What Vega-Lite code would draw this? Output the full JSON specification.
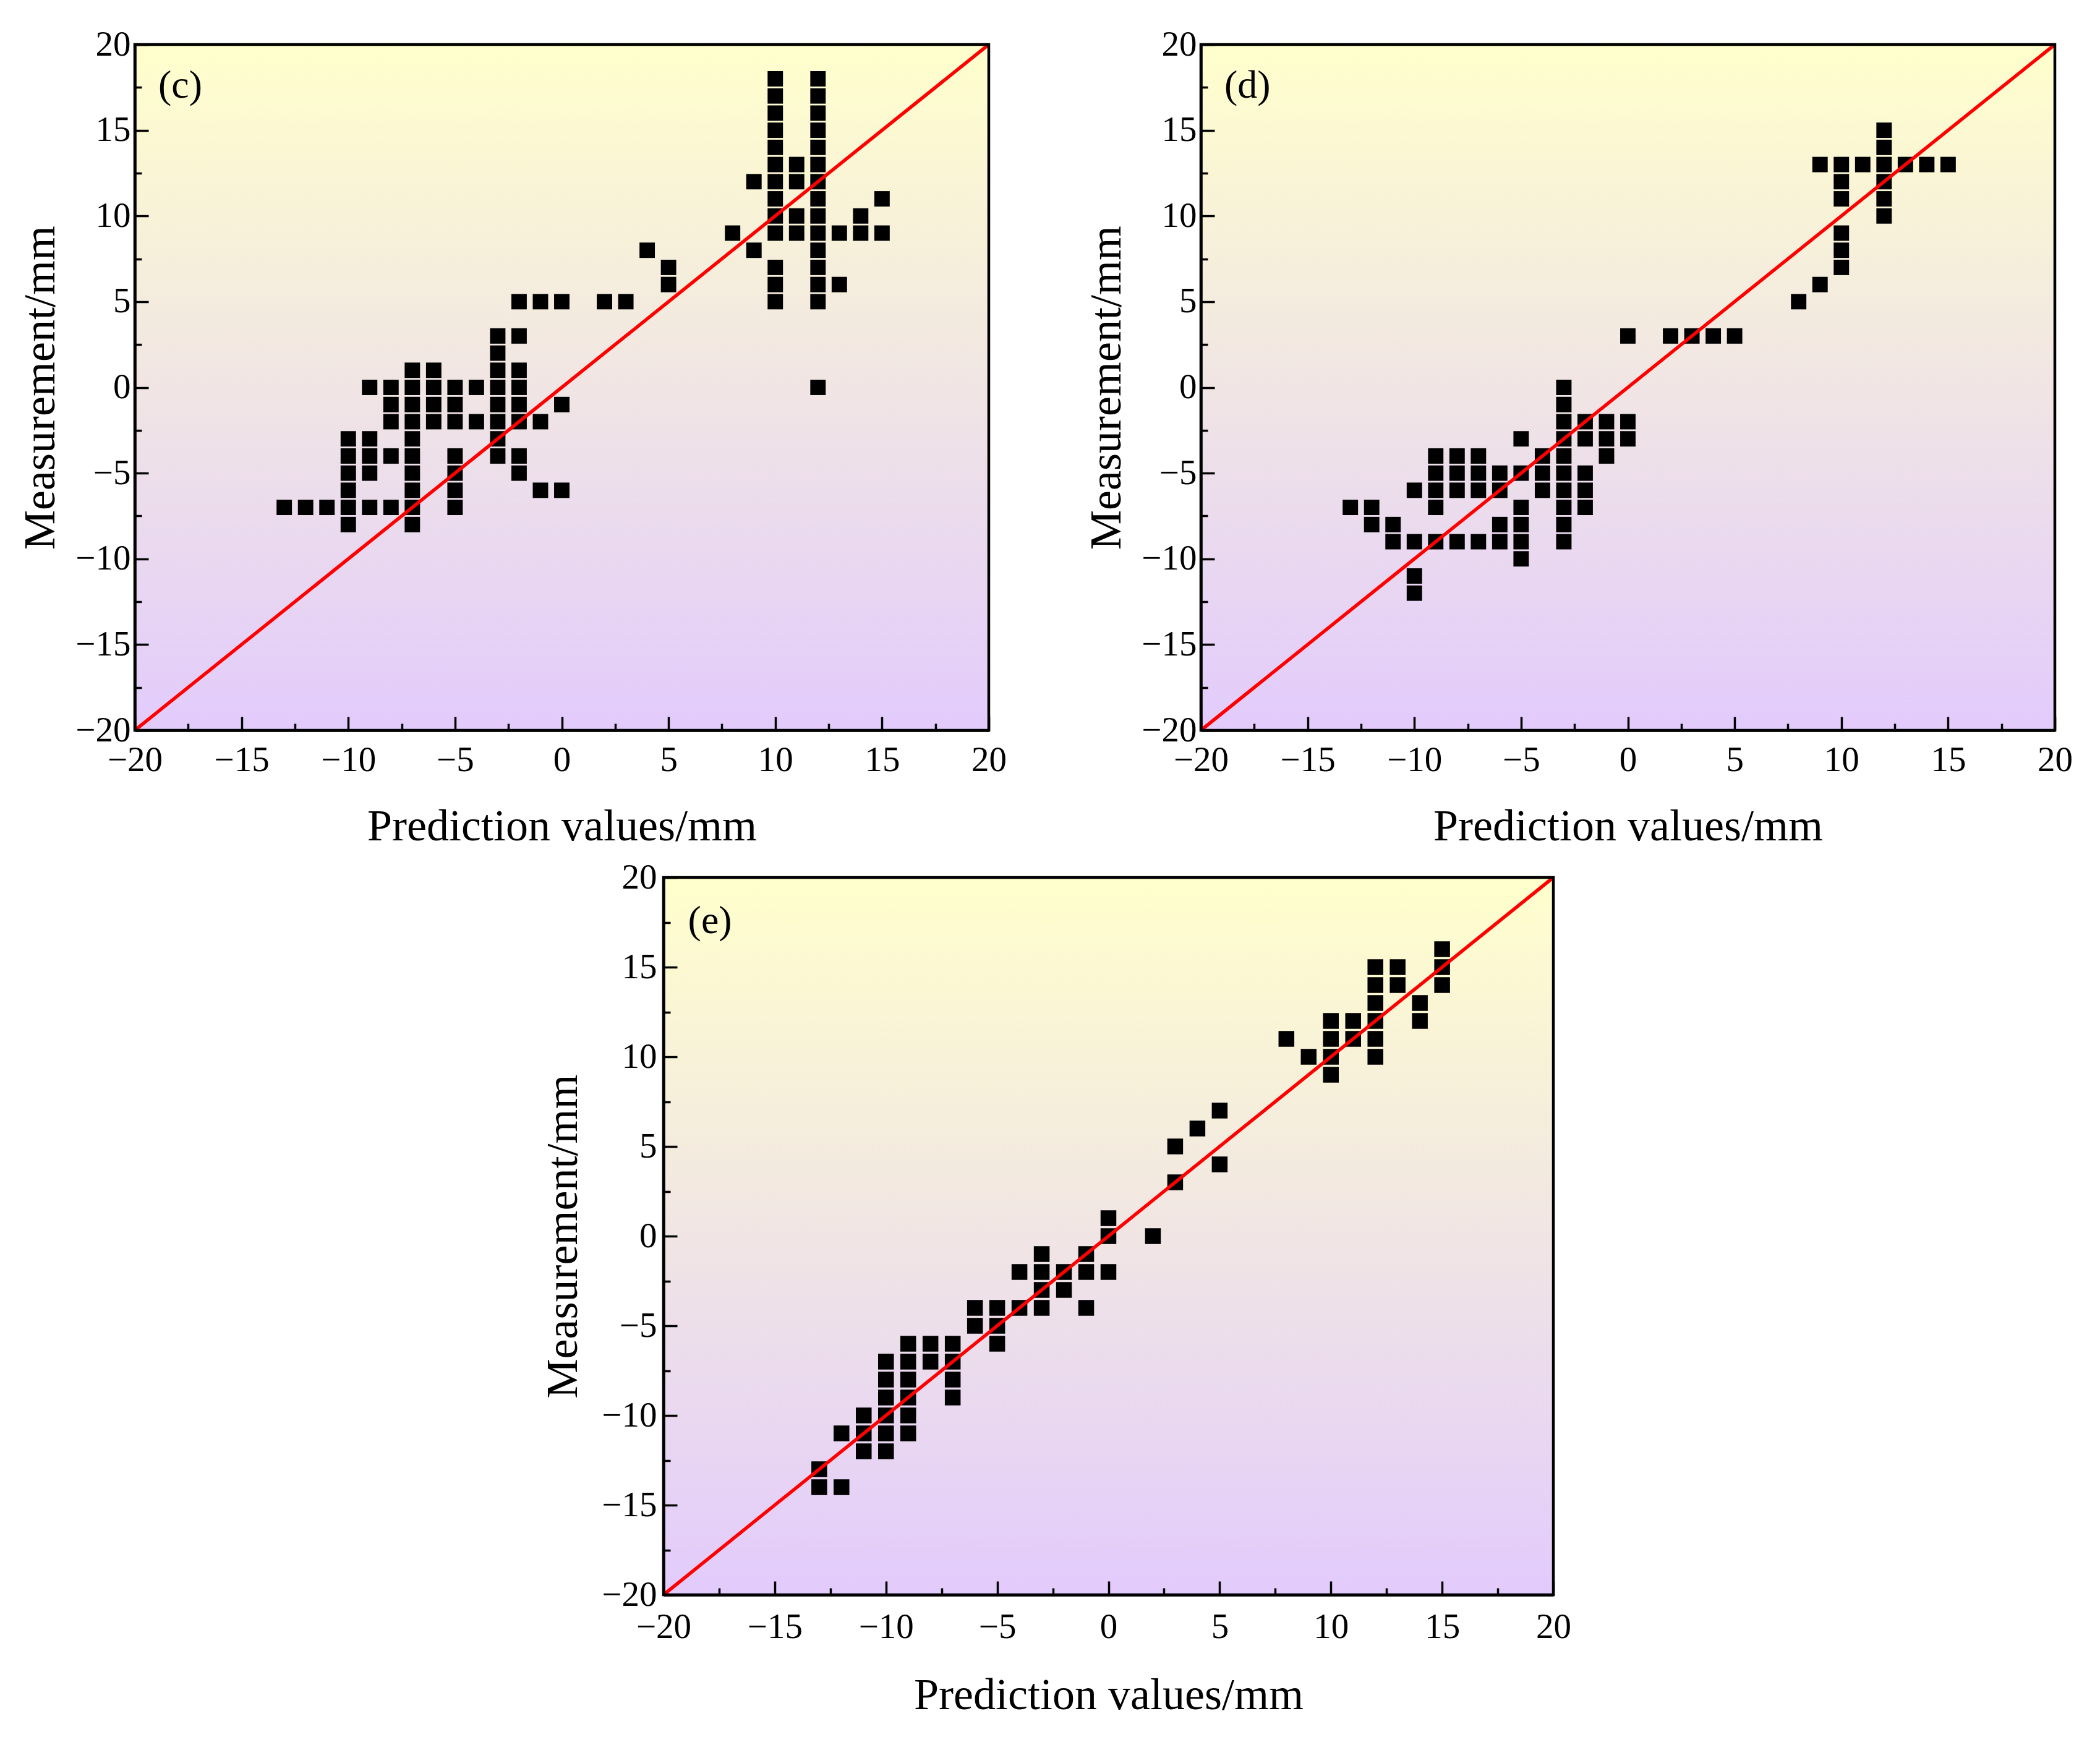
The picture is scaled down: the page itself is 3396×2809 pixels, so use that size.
{
  "$schema": "https://vega.github.io/schema/vega-lite/v6.json",
  "background": "white",
  "padding": {"left": 29, "top": 43, "right": 10, "bottom": 10},
  "config": {
    "font": "Liberation Serif",
    "view": {"stroke": null},
    "axis": {
      "zindex": 2,
      "domainColor": "black",
      "domainWidth": 4.5,
      "tickColor": "black",
      "tickWidth": 3.5,
      "labelFont": "Liberation Serif",
      "labelFontSize": 57,
      "labelColor": "black",
      "titleFont": "Liberation Serif",
      "titleFontSize": 72,
      "titleFontWeight": "normal",
      "titleColor": "black",
      "grid": false,
      "labelFlush": false,
      "labelOverlap": false
    }
  },
  "datasets": {
    "c": [
      {"pred": -2, "meas": 5}, {"pred": -1, "meas": 5}, {"pred": 0, "meas": 5}, {"pred": 2, "meas": 5}, {"pred": 3, "meas": 5},
      {"pred": -3, "meas": 3}, {"pred": -2, "meas": 3}, {"pred": -3, "meas": 2},
      {"pred": -7, "meas": 1}, {"pred": -6, "meas": 1}, {"pred": -3, "meas": 1}, {"pred": -2, "meas": 1},
      {"pred": -9, "meas": 0}, {"pred": -8, "meas": 0}, {"pred": -7, "meas": 0}, {"pred": -6, "meas": 0}, {"pred": -5, "meas": 0}, {"pred": -4, "meas": 0}, {"pred": -3, "meas": 0}, {"pred": -2, "meas": 0},
      {"pred": -8, "meas": -1}, {"pred": -7, "meas": -1}, {"pred": -6, "meas": -1}, {"pred": -5, "meas": -1}, {"pred": -3, "meas": -1}, {"pred": -2, "meas": -1}, {"pred": 0, "meas": -1},
      {"pred": -8, "meas": -2}, {"pred": -7, "meas": -2}, {"pred": -6, "meas": -2}, {"pred": -5, "meas": -2}, {"pred": -4, "meas": -2}, {"pred": -3, "meas": -2}, {"pred": -2, "meas": -2}, {"pred": -1, "meas": -2},
      {"pred": -10, "meas": -3}, {"pred": -9, "meas": -3}, {"pred": -7, "meas": -3}, {"pred": -3, "meas": -3},
      {"pred": -10, "meas": -4}, {"pred": -9, "meas": -4}, {"pred": -8, "meas": -4}, {"pred": -7, "meas": -4}, {"pred": -5, "meas": -4}, {"pred": -3, "meas": -4}, {"pred": -2, "meas": -4},
      {"pred": -10, "meas": -5}, {"pred": -9, "meas": -5}, {"pred": -7, "meas": -5}, {"pred": -5, "meas": -5}, {"pred": -2, "meas": -5},
      {"pred": -10, "meas": -6}, {"pred": -7, "meas": -6}, {"pred": -5, "meas": -6}, {"pred": -1, "meas": -6}, {"pred": 0, "meas": -6},
      {"pred": -13, "meas": -7}, {"pred": -12, "meas": -7}, {"pred": -11, "meas": -7}, {"pred": -10, "meas": -7}, {"pred": -9, "meas": -7}, {"pred": -8, "meas": -7}, {"pred": -7, "meas": -7}, {"pred": -5, "meas": -7},
      {"pred": -10, "meas": -8}, {"pred": -7, "meas": -8},
      {"pred": 4, "meas": 8}, {"pred": 5, "meas": 7}, {"pred": 5, "meas": 6}, {"pred": 8, "meas": 9}, {"pred": 9, "meas": 12}, {"pred": 9, "meas": 8},
      {"pred": 10, "meas": 18}, {"pred": 10, "meas": 17}, {"pred": 10, "meas": 16}, {"pred": 10, "meas": 15}, {"pred": 10, "meas": 14}, {"pred": 10, "meas": 13}, {"pred": 10, "meas": 12}, {"pred": 10, "meas": 11}, {"pred": 10, "meas": 10}, {"pred": 10, "meas": 9}, {"pred": 10, "meas": 7}, {"pred": 10, "meas": 6}, {"pred": 10, "meas": 5},
      {"pred": 11, "meas": 13}, {"pred": 11, "meas": 12}, {"pred": 11, "meas": 10}, {"pred": 11, "meas": 9},
      {"pred": 12, "meas": 18}, {"pred": 12, "meas": 17}, {"pred": 12, "meas": 16}, {"pred": 12, "meas": 15}, {"pred": 12, "meas": 14}, {"pred": 12, "meas": 13}, {"pred": 12, "meas": 12}, {"pred": 12, "meas": 11}, {"pred": 12, "meas": 10}, {"pred": 12, "meas": 9}, {"pred": 12, "meas": 8}, {"pred": 12, "meas": 7}, {"pred": 12, "meas": 6}, {"pred": 12, "meas": 5}, {"pred": 12, "meas": 0},
      {"pred": 13, "meas": 9}, {"pred": 13, "meas": 6}, {"pred": 14, "meas": 10}, {"pred": 14, "meas": 9}, {"pred": 15, "meas": 11}, {"pred": 15, "meas": 9}
    ],
    "d": [
      {"pred": 0, "meas": 3}, {"pred": 2, "meas": 3}, {"pred": 3, "meas": 3}, {"pred": 4, "meas": 3}, {"pred": 5, "meas": 3},
      {"pred": 8, "meas": 5}, {"pred": 9, "meas": 6}, {"pred": 9, "meas": 13},
      {"pred": 10, "meas": 13}, {"pred": 10, "meas": 12}, {"pred": 10, "meas": 11}, {"pred": 10, "meas": 9}, {"pred": 10, "meas": 8}, {"pred": 10, "meas": 7},
      {"pred": 11, "meas": 13},
      {"pred": 12, "meas": 15}, {"pred": 12, "meas": 14}, {"pred": 12, "meas": 13}, {"pred": 12, "meas": 12}, {"pred": 12, "meas": 11}, {"pred": 12, "meas": 10},
      {"pred": 13, "meas": 13}, {"pred": 14, "meas": 13}, {"pred": 15, "meas": 13},
      {"pred": -3, "meas": 0}, {"pred": -3, "meas": -1},
      {"pred": -3, "meas": -2}, {"pred": -2, "meas": -2}, {"pred": -1, "meas": -2}, {"pred": 0, "meas": -2},
      {"pred": -5, "meas": -3}, {"pred": -3, "meas": -3}, {"pred": -2, "meas": -3}, {"pred": -1, "meas": -3}, {"pred": 0, "meas": -3},
      {"pred": -9, "meas": -4}, {"pred": -8, "meas": -4}, {"pred": -7, "meas": -4}, {"pred": -4, "meas": -4}, {"pred": -3, "meas": -4}, {"pred": -1, "meas": -4},
      {"pred": -9, "meas": -5}, {"pred": -8, "meas": -5}, {"pred": -7, "meas": -5}, {"pred": -6, "meas": -5}, {"pred": -5, "meas": -5}, {"pred": -4, "meas": -5}, {"pred": -3, "meas": -5}, {"pred": -2, "meas": -5},
      {"pred": -10, "meas": -6}, {"pred": -9, "meas": -6}, {"pred": -8, "meas": -6}, {"pred": -7, "meas": -6}, {"pred": -6, "meas": -6}, {"pred": -4, "meas": -6}, {"pred": -3, "meas": -6}, {"pred": -2, "meas": -6},
      {"pred": -13, "meas": -7}, {"pred": -12, "meas": -7}, {"pred": -9, "meas": -7}, {"pred": -5, "meas": -7}, {"pred": -3, "meas": -7}, {"pred": -2, "meas": -7},
      {"pred": -12, "meas": -8}, {"pred": -11, "meas": -8}, {"pred": -6, "meas": -8}, {"pred": -5, "meas": -8}, {"pred": -3, "meas": -8},
      {"pred": -11, "meas": -9}, {"pred": -10, "meas": -9}, {"pred": -9, "meas": -9}, {"pred": -8, "meas": -9}, {"pred": -7, "meas": -9}, {"pred": -6, "meas": -9}, {"pred": -5, "meas": -9}, {"pred": -3, "meas": -9},
      {"pred": -5, "meas": -10}, {"pred": -10, "meas": -11}, {"pred": -10, "meas": -12}
    ],
    "e": [
      {"pred": -13, "meas": -13}, {"pred": -13, "meas": -14}, {"pred": -12, "meas": -11}, {"pred": -12, "meas": -14},
      {"pred": -11, "meas": -10}, {"pred": -11, "meas": -11}, {"pred": -11, "meas": -12},
      {"pred": -10, "meas": -7}, {"pred": -10, "meas": -8}, {"pred": -10, "meas": -9}, {"pred": -10, "meas": -10}, {"pred": -10, "meas": -11}, {"pred": -10, "meas": -12},
      {"pred": -9, "meas": -6}, {"pred": -9, "meas": -7}, {"pred": -9, "meas": -8}, {"pred": -9, "meas": -9}, {"pred": -9, "meas": -10}, {"pred": -9, "meas": -11},
      {"pred": -8, "meas": -6}, {"pred": -8, "meas": -7},
      {"pred": -7, "meas": -6}, {"pred": -7, "meas": -7}, {"pred": -7, "meas": -8}, {"pred": -7, "meas": -9},
      {"pred": -6, "meas": -4}, {"pred": -6, "meas": -5},
      {"pred": -5, "meas": -4}, {"pred": -5, "meas": -5}, {"pred": -5, "meas": -6},
      {"pred": -4, "meas": -2}, {"pred": -4, "meas": -4},
      {"pred": -3, "meas": -1}, {"pred": -3, "meas": -2}, {"pred": -3, "meas": -3}, {"pred": -3, "meas": -4},
      {"pred": -2, "meas": -2}, {"pred": -2, "meas": -3},
      {"pred": -1, "meas": -1}, {"pred": -1, "meas": -2}, {"pred": -1, "meas": -4},
      {"pred": 0, "meas": 1}, {"pred": 0, "meas": 0}, {"pred": 0, "meas": -2},
      {"pred": 2, "meas": 0}, {"pred": 3, "meas": 5}, {"pred": 3, "meas": 3}, {"pred": 4, "meas": 6}, {"pred": 5, "meas": 7}, {"pred": 5, "meas": 4},
      {"pred": 8, "meas": 11}, {"pred": 9, "meas": 10},
      {"pred": 10, "meas": 12}, {"pred": 10, "meas": 11}, {"pred": 10, "meas": 10}, {"pred": 10, "meas": 9},
      {"pred": 11, "meas": 12}, {"pred": 11, "meas": 11},
      {"pred": 12, "meas": 15}, {"pred": 12, "meas": 14}, {"pred": 12, "meas": 13}, {"pred": 12, "meas": 12}, {"pred": 12, "meas": 11}, {"pred": 12, "meas": 10},
      {"pred": 13, "meas": 15}, {"pred": 13, "meas": 14}, {"pred": 14, "meas": 13}, {"pred": 14, "meas": 12},
      {"pred": 15, "meas": 16}, {"pred": 15, "meas": 15}, {"pred": 15, "meas": 14}
    ]
  },
  "vconcat": [
    {
      "hconcat": [
        {
          "width": 1381,
          "height": 1109,
          "layer": [
            {
              "data": {"values": [{}]},
              "mark": {"type": "rect", "color": {"gradient": "linear", "x1": 0, "y1": 0, "x2": 0, "y2": 1, "stops": [{"offset": 0, "color": "#FFFFCC"}, {"offset": 1, "color": "#E2CBFC"}]}},
              "encoding": {
                "x": {"datum": -20, "type": "quantitative", "title": "Prediction values/mm"},
                "x2": {"datum": 20},
                "y": {"datum": 20, "type": "quantitative", "title": "Measurement/mm"},
                "y2": {"datum": -20}
              }
            },
            {
              "data": {"name": "c"},
              "mark": {"type": "square", "size": 620, "color": "black", "opacity": 1},
              "encoding": {
                "x": {
                  "field": "pred", "type": "quantitative", "title": "Prediction values/mm",
                  "scale": {"domain": [-20, 20], "nice": false, "zero": false},
                  "axis": {
                    "zindex": 2,
                    "values": [-20, -17.5, -15, -12.5, -10, -7.5, -5, -2.5, 0, 2.5, 5, 7.5, 10, 12.5, 15, 17.5, 20],
                    "labelExpr": "datum.value % 5 === 0 ? datum.label : ''",
                    "tickSize": {"condition": {"test": "datum.value % 5 === 0", "value": -22}, "value": -11},
                    "labelPadding": 42,
                    "titlePadding": 33
                  }
                },
                "y": {
                  "field": "meas", "type": "quantitative", "title": "Measurement/mm",
                  "scale": {"domain": [-20, 20], "nice": false, "zero": false},
                  "axis": {
                    "zindex": 2,
                    "values": [-20, -17.5, -15, -12.5, -10, -7.5, -5, -2.5, 0, 2.5, 5, 7.5, 10, 12.5, 15, 17.5, 20],
                    "labelExpr": "datum.value % 5 === 0 ? datum.label : ''",
                    "tickSize": {"condition": {"test": "datum.value % 5 === 0", "value": -22}, "value": -11},
                    "labelPadding": 29,
                    "titlePadding": 19
                  }
                }
              }
            },
            {
              "data": {"values": [{}]},
              "mark": {"type": "rule", "color": "#FF0000", "strokeWidth": 5.5},
              "encoding": {
                "x": {"datum": -20, "type": "quantitative", "title": "Prediction values/mm"},
                "x2": {"datum": 20},
                "y": {"datum": -20, "type": "quantitative", "title": "Measurement/mm"},
                "y2": {"datum": 20}
              }
            },
            {
              "data": {"values": [{}]},
              "mark": {"type": "rect", "filled": false, "stroke": "black", "strokeWidth": 4.5},
              "encoding": {
                "x": {"datum": -20, "type": "quantitative", "title": "Prediction values/mm"},
                "x2": {"datum": 20},
                "y": {"datum": 20, "type": "quantitative", "title": "Measurement/mm"},
                "y2": {"datum": -20}
              }
            },
            {
              "data": {"values": [{}]},
              "mark": {"type": "text", "text": "(c)", "align": "left", "baseline": "alphabetic", "fontSize": 64, "font": "Liberation Serif", "color": "black"},
              "encoding": {
                "x": {"datum": -18.9, "type": "quantitative", "title": "Prediction values/mm"},
                "y": {"datum": 16.9, "type": "quantitative", "title": "Measurement/mm"}
              }
            }
          ]
        },
        {
          "width": 1381,
          "height": 1109,
          "layer": [
            {
              "data": {"values": [{}]},
              "mark": {"type": "rect", "color": {"gradient": "linear", "x1": 0, "y1": 0, "x2": 0, "y2": 1, "stops": [{"offset": 0, "color": "#FFFFCC"}, {"offset": 1, "color": "#E2CBFC"}]}},
              "encoding": {
                "x": {"datum": -20, "type": "quantitative", "title": "Prediction values/mm"},
                "x2": {"datum": 20},
                "y": {"datum": 20, "type": "quantitative", "title": "Measurement/mm"},
                "y2": {"datum": -20}
              }
            },
            {
              "data": {"name": "d"},
              "mark": {"type": "square", "size": 620, "color": "black", "opacity": 1},
              "encoding": {
                "x": {
                  "field": "pred", "type": "quantitative", "title": "Prediction values/mm",
                  "scale": {"domain": [-20, 20], "nice": false, "zero": false},
                  "axis": {
                    "zindex": 2,
                    "values": [-20, -17.5, -15, -12.5, -10, -7.5, -5, -2.5, 0, 2.5, 5, 7.5, 10, 12.5, 15, 17.5, 20],
                    "labelExpr": "datum.value % 5 === 0 ? datum.label : ''",
                    "tickSize": {"condition": {"test": "datum.value % 5 === 0", "value": -22}, "value": -11},
                    "labelPadding": 42,
                    "titlePadding": 33
                  }
                },
                "y": {
                  "field": "meas", "type": "quantitative", "title": "Measurement/mm",
                  "scale": {"domain": [-20, 20], "nice": false, "zero": false},
                  "axis": {
                    "zindex": 2,
                    "values": [-20, -17.5, -15, -12.5, -10, -7.5, -5, -2.5, 0, 2.5, 5, 7.5, 10, 12.5, 15, 17.5, 20],
                    "labelExpr": "datum.value % 5 === 0 ? datum.label : ''",
                    "tickSize": {"condition": {"test": "datum.value % 5 === 0", "value": -22}, "value": -11},
                    "labelPadding": 29,
                    "titlePadding": 19
                  }
                }
              }
            },
            {
              "data": {"values": [{}]},
              "mark": {"type": "rule", "color": "#FF0000", "strokeWidth": 5.5},
              "encoding": {
                "x": {"datum": -20, "type": "quantitative", "title": "Prediction values/mm"},
                "x2": {"datum": 20},
                "y": {"datum": -20, "type": "quantitative", "title": "Measurement/mm"},
                "y2": {"datum": 20}
              }
            },
            {
              "data": {"values": [{}]},
              "mark": {"type": "rect", "filled": false, "stroke": "black", "strokeWidth": 4.5},
              "encoding": {
                "x": {"datum": -20, "type": "quantitative", "title": "Prediction values/mm"},
                "x2": {"datum": 20},
                "y": {"datum": 20, "type": "quantitative", "title": "Measurement/mm"},
                "y2": {"datum": -20}
              }
            },
            {
              "data": {"values": [{}]},
              "mark": {"type": "text", "text": "(d)", "align": "left", "baseline": "alphabetic", "fontSize": 64, "font": "Liberation Serif", "color": "black"},
              "encoding": {
                "x": {"datum": -18.9, "type": "quantitative", "title": "Prediction values/mm"},
                "y": {"datum": 16.9, "type": "quantitative", "title": "Measurement/mm"}
              }
            }
          ]
        }
      ],
      "spacing": 125
    },
    {
      "hconcat": [
        {
          "width": 656,
          "height": 10,
          "data": {"values": []},
          "mark": "point"
        },
        {
          "width": 1439,
          "height": 1160,
          "layer": [
            {
              "data": {"values": [{}]},
              "mark": {"type": "rect", "color": {"gradient": "linear", "x1": 0, "y1": 0, "x2": 0, "y2": 1, "stops": [{"offset": 0, "color": "#FFFFCC"}, {"offset": 1, "color": "#E2CBFC"}]}},
              "encoding": {
                "x": {"datum": -20, "type": "quantitative", "title": "Prediction values/mm"},
                "x2": {"datum": 20},
                "y": {"datum": 20, "type": "quantitative", "title": "Measurement/mm"},
                "y2": {"datum": -20}
              }
            },
            {
              "data": {"name": "e"},
              "mark": {"type": "square", "size": 650, "color": "black", "opacity": 1},
              "encoding": {
                "x": {
                  "field": "pred", "type": "quantitative", "title": "Prediction values/mm",
                  "scale": {"domain": [-20, 20], "nice": false, "zero": false},
                  "axis": {
                    "zindex": 2,
                    "values": [-20, -17.5, -15, -12.5, -10, -7.5, -5, -2.5, 0, 2.5, 5, 7.5, 10, 12.5, 15, 17.5, 20],
                    "labelExpr": "datum.value % 5 === 0 ? datum.label : ''",
                    "tickSize": {"condition": {"test": "datum.value % 5 === 0", "value": -22}, "value": -11},
                    "labelPadding": 46,
                    "titlePadding": 36
                  }
                },
                "y": {
                  "field": "meas", "type": "quantitative", "title": "Measurement/mm",
                  "scale": {"domain": [-20, 20], "nice": false, "zero": false},
                  "axis": {
                    "zindex": 2,
                    "values": [-20, -17.5, -15, -12.5, -10, -7.5, -5, -2.5, 0, 2.5, 5, 7.5, 10, 12.5, 15, 17.5, 20],
                    "labelExpr": "datum.value % 5 === 0 ? datum.label : ''",
                    "tickSize": {"condition": {"test": "datum.value % 5 === 0", "value": -22}, "value": -11},
                    "labelPadding": 33,
                    "titlePadding": 25
                  }
                }
              }
            },
            {
              "data": {"values": [{}]},
              "mark": {"type": "rule", "color": "#FF0000", "strokeWidth": 5.5},
              "encoding": {
                "x": {"datum": -20, "type": "quantitative", "title": "Prediction values/mm"},
                "x2": {"datum": 20},
                "y": {"datum": -20, "type": "quantitative", "title": "Measurement/mm"},
                "y2": {"datum": 20}
              }
            },
            {
              "data": {"values": [{}]},
              "mark": {"type": "rect", "filled": false, "stroke": "black", "strokeWidth": 4.5},
              "encoding": {
                "x": {"datum": -20, "type": "quantitative", "title": "Prediction values/mm"},
                "x2": {"datum": 20},
                "y": {"datum": 20, "type": "quantitative", "title": "Measurement/mm"},
                "y2": {"datum": -20}
              }
            },
            {
              "data": {"values": [{}]},
              "mark": {"type": "text", "text": "(e)", "align": "left", "baseline": "alphabetic", "fontSize": 64, "font": "Liberation Serif", "color": "black"},
              "encoding": {
                "x": {"datum": -18.9, "type": "quantitative", "title": "Prediction values/mm"},
                "y": {"datum": 16.9, "type": "quantitative", "title": "Measurement/mm"}
              }
            }
          ]
        }
      ],
      "spacing": 0
    }
  ],
  "spacing": 18
}
